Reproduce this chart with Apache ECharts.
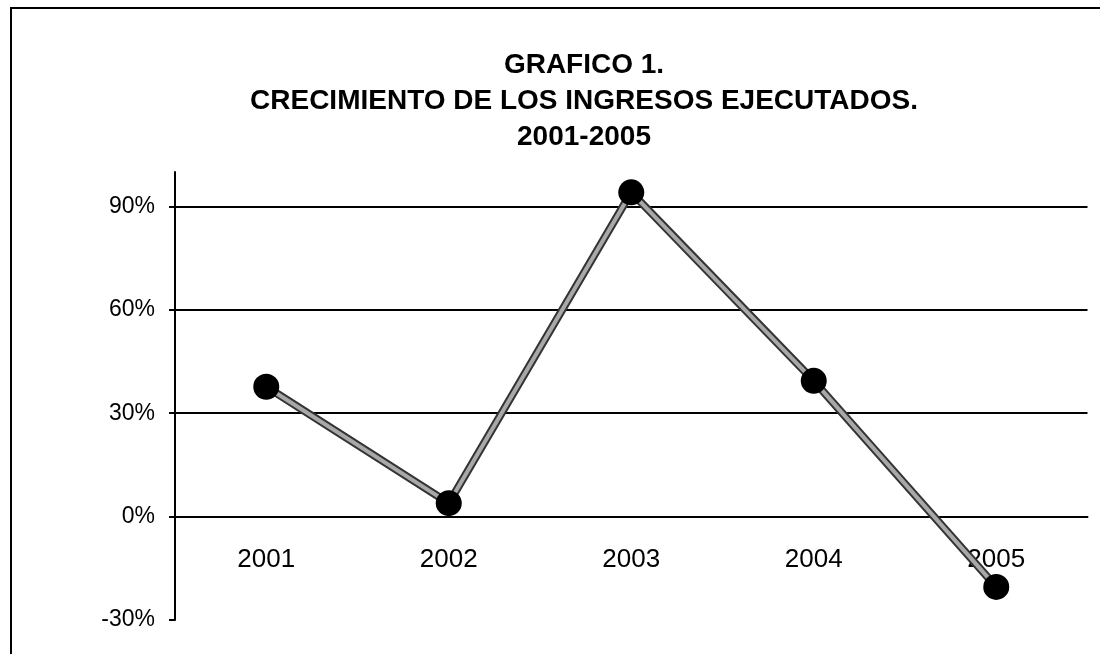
<!DOCTYPE html>
<html>
<head>
<meta charset="utf-8">
<style>
  html, body { margin: 0; padding: 0; background: #fff; }
  #chart { width: 1100px; height: 654px; }
</style>
<script src="https://cdn.jsdelivr.net/npm/echarts@6/dist/echarts.min.js"></script>
</head>
<body>
<div id="chart"></div>
<script>
const titleLines = ['GRAFICO 1.', 'CRECIMIENTO DE LOS INGRESOS EJECUTADOS.', '2001-2005'];
const categories = ['2001', '2002', '2003', '2004', '2005'];
const growth = [37.7, 3.9, 94.1, 39.4, -20.4];
const yTicks = [-30, 0, 30, 60, 90];

const FONT = '"Liberation Sans", Arial, sans-serif';
const chart = echarts.init(document.getElementById('chart'), null, { renderer: 'canvas' });

const titleY = [65, 101, 137];
const graphics = [
  { type: 'rect', shape: { x: 11, y: 8, width: 1200, height: 1000 },
    style: { fill: 'none', stroke: '#000', lineWidth: 2 }, silent: true }
];
titleLines.forEach((t, i) => graphics.push({
  type: 'text', x: 584, y: titleY[i],
  style: { text: t, font: 'bold 28px ' + FONT, fill: '#000', textAlign: 'center', textVerticalAlign: 'middle' }
}));

// grid: 130 percentage points over 448 px; the zero line sits 30 points above the bottom
const gridTop = 172, gridBottom = 34, plotH = 654 - gridTop - gridBottom;
const zeroOffset = -plotH * 30 / 130;

chart.setOption({
  backgroundColor: '#fff',
  animation: false,
  graphic: graphics,
  grid: { left: 175, right: 12.5, top: gridTop, bottom: gridBottom, containLabel: false, outerBoundsMode: 'none' },
  xAxis: {
    type: 'category',
    data: categories,
    boundaryGap: true,
    position: 'bottom',
    offset: zeroOffset,
    axisLine: { onZero: false, lineStyle: { color: '#000', width: 2 } },
    axisTick: { show: false },
    axisLabel: { margin: 30, color: '#000', fontSize: 26, fontFamily: FONT },
    splitLine: { show: false }
  },
  yAxis: {
    type: 'value',
    min: -30, max: 100, interval: 30,
    axisLine: { show: true, lineStyle: { color: '#000', width: 2 } },
    axisTick: { show: true, inside: false, length: 6, lineStyle: { color: '#000', width: 2 }, customValues: yTicks },
    axisLabel: { margin: 20, color: '#000', fontSize: 23, fontFamily: FONT,
      customValues: yTicks, formatter: v => v + '%' },
    splitLine: { show: true, showMinLine: false, showMaxLine: true, lineStyle: { color: '#000', width: 2 } }
  },
  series: [
    {
      type: 'line', data: growth, symbol: 'none', silent: true, z: 2,
      lineStyle: { color: '#333', width: 8 }
    },
    {
      type: 'line', data: growth, symbol: 'circle', symbolSize: 26, z: 3,
      itemStyle: { color: '#000' },
      lineStyle: { color: '#a8a8a8', width: 4 }
    }
  ]
});
</script>
</body>
</html>
